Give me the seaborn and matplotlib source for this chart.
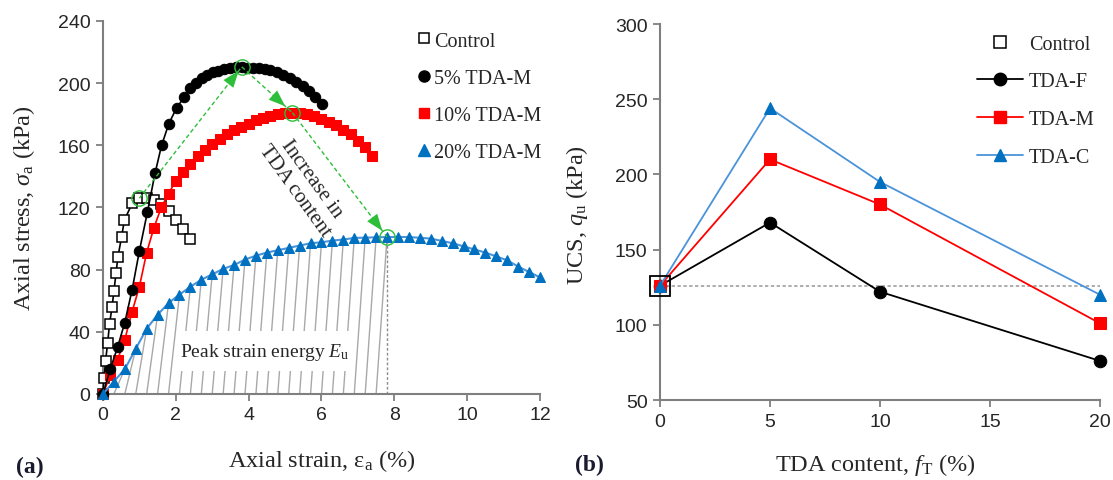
import numpy as np
import pandas as pd
import seaborn as sns
import matplotlib
matplotlib.use("Agg")
import matplotlib.pyplot as plt
from matplotlib.lines import Line2D
from matplotlib.patches import Rectangle
from matplotlib.collections import LineCollection

# ---------------- Panel (a) data: axial stress vs axial strain ----------------
control_strain = [0, 0.03, 0.07, 0.13, 0.18, 0.25, 0.30, 0.36, 0.41, 0.51, 0.59, 0.81,
                  1.0, 1.2, 1.4, 1.6, 1.8, 2.0, 2.2, 2.4]
control_stress = [0, 10, 21, 33, 45, 56, 66, 78, 88, 101, 112, 123,
                  126, 126, 125, 122, 118, 112, 106, 100]

m5_strain = [0, 0.2, 0.4, 0.6, 0.8, 1.0, 1.22, 1.43, 1.61, 1.81, 2.02, 2.23, 2.39, 2.55,
             2.71, 2.85, 3.01, 3.17, 3.33, 3.49, 3.65, 3.81, 3.96, 4.13, 4.29, 4.45, 4.6,
             4.79, 4.95, 5.14, 5.3, 5.48, 5.66, 5.82, 6.02]
m5_stress = [0, 16, 30, 46, 67, 92, 117, 142, 160, 174, 184, 191, 197, 200,
             203, 205, 207, 208, 209, 210, 210.3, 210.5, 210, 209.5, 209.5, 209, 208.5,
             207, 205, 203, 200.5, 198, 195, 191, 186.5]

m10_strain = [0, 0.2, 0.4, 0.6, 0.8, 1.0, 1.2, 1.4, 1.6, 1.8, 2.0, 2.2, 2.4, 2.6, 2.8,
              3.0, 3.2, 3.4, 3.6, 3.8, 4.0, 4.2, 4.4, 4.6, 4.8, 5.0, 5.2, 5.4, 5.6, 5.8,
              6.0, 6.2, 6.4, 6.6, 6.8, 7.0, 7.2, 7.4]
m10_stress = [0, 12, 22, 35, 53, 69, 91, 107, 120, 129, 137, 143, 148, 153, 157,
              161, 164, 167, 170, 172, 174, 176, 177.5, 179, 180, 180.5, 181, 181, 180, 179,
              177, 175, 173, 170, 167, 163, 159, 153]

m20_strain = [0, 0.3, 0.6, 0.9, 1.2, 1.5, 1.8, 2.1, 2.4, 2.7, 3.0, 3.3, 3.6, 3.9, 4.2,
              4.5, 4.8, 5.1, 5.4, 5.7, 6.0, 6.3, 6.6, 6.9, 7.2, 7.5, 7.8, 8.1, 8.4, 8.7,
              9.0, 9.3, 9.6, 9.9, 10.2, 10.5, 10.8, 11.1, 11.4, 11.7, 12.0]
m20_stress = [0, 8, 16, 29, 42, 51, 58.5, 64, 69, 73.5, 77, 80.5, 83, 86.5, 89,
              91, 92.5, 94, 95.5, 97, 97.6, 98.7, 99.4, 100.4, 100.6, 100.8, 101, 101, 101, 100.5,
              100, 98.5, 97, 95, 93, 91, 88.5, 86, 82, 78.5, 75]

labels_a = ["Control", "5% TDA-M", "10% TDA-M", "20% TDA-M"]

# ---------------- Panel (b) data: UCS vs TDA content ----------------
tda_content = [0, 5, 10, 20]
ucs_F = [126, 168, 122, 76]
ucs_M = [126, 210, 180, 101]
ucs_C = [126, 244, 195, 120]
ucs_control = 126
labels_b = ["Control", "TDA-F", "TDA-M", "TDA-C"]

# ---------------- styling ----------------
sns.set_style("ticks")
plt.rcParams["font.family"] = ["Liberation Serif", "DejaVu Serif"]
plt.rcParams["mathtext.fontset"] = "custom"
plt.rcParams["mathtext.rm"] = "Liberation Serif"
plt.rcParams["mathtext.it"] = "Liberation Serif:italic"
plt.rcParams["mathtext.bf"] = "Liberation Serif:bold"

RED = "#FF0000"
BLUE_M = "#0070C0"
BLUE_L = "#4A93DA"
GREEN = "#2DBE3A"
GREY = "#7F7F7F"
TXT = "#262626"

fig = plt.figure(figsize=(11.13, 4.81), dpi=100)
ax = fig.add_axes([0.0925, 0.1788, 0.3927, 0.7755])
ax2 = fig.add_axes([0.5930, 0.1663, 0.3953, 0.7817])

def style_axes(a):
    sns.despine(ax=a)
    for s in ("left", "bottom"):
        a.spines[s].set_color(GREY)
        a.spines[s].set_linewidth(1.5)
    a.tick_params(direction="out", length=5, width=1.3, color=GREY,
                  labelsize=14, labelcolor=TXT, labelfontfamily="Liberation Sans", pad=4)

# ---------------- Panel (a) ----------------
df_c = pd.DataFrame({"x": control_strain, "y": control_stress})
df_5 = pd.DataFrame({"x": m5_strain, "y": m5_stress})
df_10 = pd.DataFrame({"x": m10_strain, "y": m10_stress})
df_20 = pd.DataFrame({"x": m20_strain, "y": m20_stress})

# hatch lines for peak strain energy of 20% TDA-M (up to its peak)
ipk = int(np.argmax(m20_stress))
segs = [[(m20_strain[i], 0), (m20_strain[i + 1], m20_stress[i + 1])] for i in range(ipk)]
ax.add_collection(LineCollection(segs, colors="#A8A8A8", linewidths=1.0, zorder=1.5))
ax.plot([m20_strain[ipk]] * 2, [0, m20_stress[ipk]], color="#8C8C8C",
        ls=(0, (2, 1.5)), lw=1.0, zorder=1.6)
ax.add_patch(Rectangle((2.06, 15), 4.77, 25.6, facecolor="white", edgecolor="none", zorder=2))
ax.text(4.45, 27.5, r"Peak strain energy $E_\mathrm{u}$", ha="center", va="center",
        fontsize=14, color=TXT, zorder=2.1)

common = dict(ax=ax, x="x", y="y", sort=False, estimator=None, legend=False, clip_on=False)
sns.lineplot(data=df_c, color="black", lw=1.2, marker="s", markersize=7,
             markerfacecolor="white", markeredgecolor="black", markeredgewidth=1.1, zorder=3, **common)
sns.lineplot(data=df_5, color="black", lw=1.2, marker="o", markersize=7.5,
             markerfacecolor="black", markeredgecolor="black", zorder=3.2, **common)
sns.lineplot(data=df_10, color=RED, lw=1.2, marker="s", markersize=7.5,
             markerfacecolor=RED, markeredgecolor=RED, zorder=3.1, **common)
sns.lineplot(data=df_20, color=BLUE_L, lw=1.5, marker="^", markersize=7.5,
             markerfacecolor=BLUE_M, markeredgecolor=BLUE_M, zorder=3.3, **common)

# peaks and green arrows
peaks = []
for xs, ys in [(control_strain, control_stress), (m5_strain, m5_stress),
               (m10_strain, m10_stress), (m20_strain, m20_stress)]:
    k = int(np.argmax(ys))
    peaks.append((xs[k], ys[k]))
for (x0, y0), (x1, y1), fr in zip(peaks[:-1], peaks[1:], [0.97, 0.86, 0.95]):
    ax.plot([x0, x1], [y0, y1], color=GREEN, ls=(0, (3, 2)), lw=1.0, zorder=4)
    xt, yt = x0 + fr * (x1 - x0), y0 + fr * (y1 - y0)
    xb, yb = x0 + (fr - 0.2) * (x1 - x0), y0 + (fr - 0.2) * (y1 - y0)
    ax.annotate("", xy=(xt, yt), xytext=(xb, yb), zorder=4.2,
                arrowprops=dict(arrowstyle="-|>,head_length=0.8,head_width=0.3",
                                facecolor=GREEN, edgecolor=GREEN, lw=0,
                                mutation_scale=15, shrinkA=0, shrinkB=0))
ax.plot([p[0] for p in peaks], [p[1] for p in peaks], ls="none", marker="o",
        markersize=11, markerfacecolor="none", markeredgecolor=GREEN, markeredgewidth=1.0,
        zorder=4.5, clip_on=False)

ax.text(5.5, 135, "Increase in\nTDA content", rotation=-54, ha="center", va="center",
        rotation_mode="anchor", fontsize=15, color=TXT, zorder=5, linespacing=1.15)

ax.set_xlim(0, 12)
ax.set_ylim(0, 240)
ax.set_xticks([0, 2, 4, 6, 8, 10, 12])
ax.set_yticks([0, 40, 80, 120, 160, 200, 240])
style_axes(ax)
ax.set_xlabel("Axial strain, ε$_\\mathrm{a}$ (%)", fontsize=17.5, color=TXT)
ax.set_ylabel(r"Axial stress, $\sigma_\mathrm{a}$ (kPa)", fontsize=17.5, color=TXT)
ax.xaxis.set_label_coords(0.5, -0.142)
ax.yaxis.set_label_coords(-0.152, 0.5)

hA = [Line2D([], [], ls="none", marker="s", markersize=6.5, mfc="white", mec="black", mew=1.1),
      Line2D([], [], ls="none", marker="o", markersize=8, mfc="black", mec="black"),
      Line2D([], [], ls="none", marker="s", markersize=7.5, mfc=RED, mec=RED),
      Line2D([], [], ls="none", marker="^", markersize=8, mfc=BLUE_M, mec=BLUE_M)]
legA = ax.legend(hA, labels_a, loc="upper left", bbox_to_anchor=(0.72, 0.972), frameon=False,
                 handlelength=0.6, handletextpad=0.2, labelspacing=0.9, borderpad=0,
                 borderaxespad=0, prop={"family": "Liberation Serif", "size": 14.5})
for t in legA.get_texts():
    t.set_color(TXT)

# ---------------- Panel (b) ----------------
ax2.plot([tda_content[0], tda_content[-1]], [ucs_control, ucs_control], color="#A0A0A0",
         ls=(0, (2, 1.5)), lw=1.2, zorder=1)
df_b = pd.DataFrame({"x": tda_content * 3, "y": ucs_F + ucs_M + ucs_C,
                     "s": ["TDA-F"] * 4 + ["TDA-M"] * 4 + ["TDA-C"] * 4})
styles = {"TDA-F": ("black", "black", "o", 9, 1.3),
          "TDA-M": (RED, RED, "s", 8.5, 1.3),
          "TDA-C": (BLUE_L, BLUE_M, "^", 9, 1.3)}
for i, (name, (lc, mc, mk, ms, lw)) in enumerate(styles.items()):
    sub = df_b[df_b["s"] == name]
    sns.lineplot(data=sub, x="x", y="y", ax=ax2, color=lc, lw=lw, marker=mk, markersize=ms,
                 markerfacecolor=mc, markeredgecolor=mc, sort=False, estimator=None,
                 legend=False, clip_on=False, zorder=3 + i * 0.1)
ax2.plot([tda_content[0]], [ucs_control], ls="none", marker="s", markersize=14,
         mfc="none", mec="black", mew=1.3, zorder=4, clip_on=False)

ax2.set_xlim(0, 20)
ax2.set_ylim(50, 300)
ax2.set_xticks([0, 5, 10, 15, 20])
ax2.set_yticks([50, 100, 150, 200, 250, 300])
style_axes(ax2)
ax2.set_xlabel(r"TDA content, $f_\mathrm{T}$ (%)", fontsize=17.5, color=TXT)
ax2.set_ylabel(r"UCS, $q_\mathrm{u}$ (kPa)", fontsize=17.5, color=TXT)
ax2.xaxis.set_label_coords(0.49, -0.135)
ax2.yaxis.set_label_coords(-0.16, 0.495)

hB = [Line2D([], [], ls="none", marker="s", markersize=8, mfc="white", mec="black", mew=1.1),
      Line2D([], [], color="black", lw=1.3, marker="o", markersize=9, mfc="black", mec="black"),
      Line2D([], [], color=RED, lw=1.3, marker="s", markersize=8.5, mfc=RED, mec=RED),
      Line2D([], [], color=BLUE_L, lw=1.3, marker="^", markersize=9, mfc=BLUE_M, mec=BLUE_M)]
legB = ax2.legend(hB, labels_b, loc="upper left", bbox_to_anchor=(0.72, 0.972), frameon=False,
                  handlelength=2.3, handletextpad=0.3, labelspacing=0.93, borderpad=0,
                  borderaxespad=0, prop={"family": "Liberation Serif", "size": 14.5})
for t in legB.get_texts():
    t.set_color(TXT)

fig.text(30 / 1113, 1 - 467 / 481, "(a)", fontsize=17, fontweight="bold", ha="center",
         va="center", color="#1a1a2e")
fig.text(589 / 1113, 1 - 465 / 481, "(b)", fontsize=17, fontweight="bold", ha="center",
         va="center", color="#1a1a2e")

fig.savefig("out.png", dpi=100)
